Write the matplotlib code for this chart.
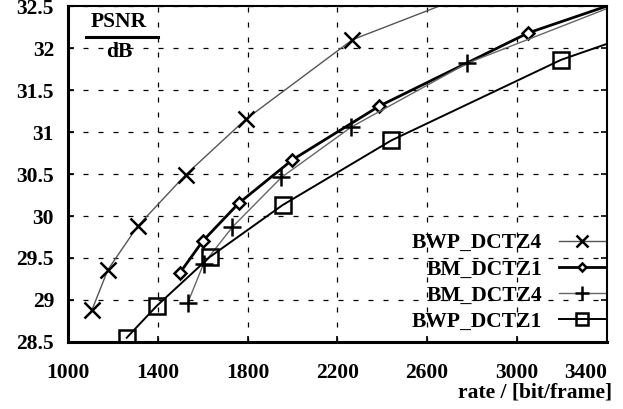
import numpy as np
import matplotlib.pyplot as plt
from matplotlib.lines import Line2D

# Werte (rate in bit/frame, PSNR in dB)
rate_bwp_z4 = [1107, 1178, 1311, 1524, 1791, 2267, 2750]
psnr_bwp_z4 = [28.88, 29.36, 29.88, 30.49, 31.15, 32.10, 32.60]

rate_bm_z1 = [1498, 1600, 1760, 2000, 2387, 3049, 3400]
psnr_bm_z1 = [29.32, 29.70, 30.15, 30.67, 31.31, 32.18, 32.50]

rate_bm_z4 = [1533, 1604, 1733, 1951, 2262, 2778, 3400]
psnr_bm_z4 = [28.96, 29.43, 29.87, 30.46, 31.06, 31.82, 32.47]

rate_bwp_z1 = [1262, 1396, 1631, 1956, 2440, 3196, 3400]
psnr_bwp_z1 = [28.55, 28.93, 29.51, 30.13, 30.90, 31.86, 32.05]

xticks = [1000, 1400, 1800, 2200, 2600, 3000, 3400]
yticks = [28.5, 29, 29.5, 30, 30.5, 31, 31.5, 32, 32.5]

plt.rcParams["font.family"] = "Liberation Serif"
plt.rcParams["font.weight"] = "bold"
fs = 15.5

fig = plt.figure(figsize=(6.23, 4.09), dpi=100)
ax = fig.add_axes([0.109, 0.164, 0.865, 0.821])

ax.plot(rate_bwp_z4, psnr_bwp_z4, color="#555555", lw=1.0, marker="x",
        ms=11, mew=1.8, mec="black", markevery=list(range(6)), label="BWP_DCTZ4")
ax.plot(rate_bm_z1, psnr_bm_z1, color="black", lw=2.0, marker="D",
        ms=6, mew=1.8, mfc="white", mec="black", markevery=list(range(6)),
        label="BM_DCTZ1")
ax.plot(rate_bm_z4, psnr_bm_z4, color="#666666", lw=1.0, marker="+",
        ms=13, mew=1.8, mec="black", markevery=list(range(6)), label="BM_DCTZ4")
ax.plot(rate_bwp_z1, psnr_bwp_z1, color="black", lw=1.4, marker="s",
        ms=11, mew=1.8, mfc="none", mec="black", markevery=list(range(6)),
        label="BWP_DCTZ1")

ax.set_xlim(1000, 3400)
ax.set_ylim(28.5, 32.5)
ax.set_xticks(xticks)
ax.set_yticks(yticks)
ax.set_yticklabels(["28.5", "29", "29.5", "30", "30.5", "31", "31.5", "32", "32.5"])
ax.tick_params(direction="in", labelsize=fs, length=4, width=1.2, right=True)
ax.tick_params(axis="x", pad=15)
ax.tick_params(axis="y", pad=10)
for lab in ax.get_xticklabels() + ax.get_yticklabels():
    lab.set_fontweight("bold")
ax.get_xticklabels()[-1].set_horizontalalignment("right")

ax.grid(True, color="black", linestyle=(0, (4, 8)), linewidth=0.9)

ax.spines["left"].set_linewidth(2.2)
ax.spines["bottom"].set_linewidth(2.2)
ax.spines["top"].set_linewidth(1.5)
ax.spines["right"].set_linewidth(1.5)

# PSNR / dB als Bruch
ax.text(0.095, 0.953, "PSNR", transform=ax.transAxes, ha="center", va="center",
        fontsize=fs, fontweight="bold")
ax.add_line(Line2D([0.033, 0.167], [0.908, 0.908], transform=ax.transAxes,
                   color="black", lw=2.2))
ax.text(0.095, 0.862, "dB", transform=ax.transAxes, ha="center", va="center",
        fontsize=fs, fontweight="bold")

fig.text(0.982, 0.04, "rate / [bit/frame]", ha="right", va="center",
         fontsize=fs, fontweight="bold")

leg = ax.legend(loc="lower right", bbox_to_anchor=(1.012, 0.005), frameon=False,
                markerfirst=False, fontsize=fs, handlelength=2.1, markerscale=0.75,
                labelspacing=0.28, handletextpad=0.8, borderaxespad=0.0)

fig.savefig("out.png", dpi=100)
